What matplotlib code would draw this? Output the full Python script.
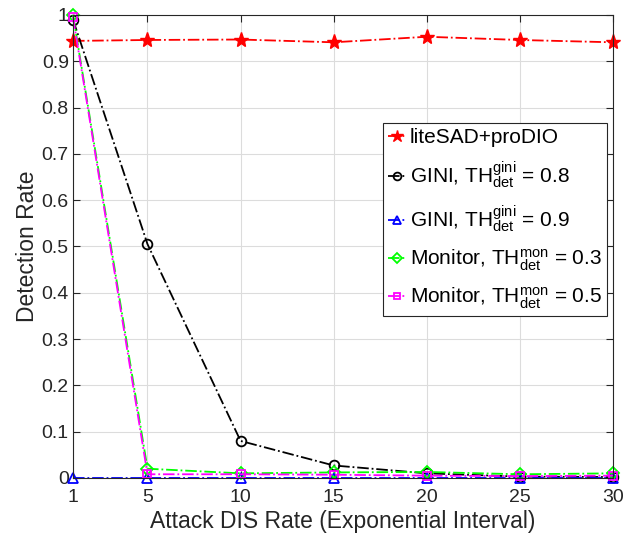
import matplotlib
matplotlib.use('Agg')
import matplotlib.pyplot as plt

# veriler
x = [1, 5, 10, 15, 20, 25, 30]
lite_sad = [0.944, 0.946, 0.947, 0.941, 0.953, 0.946, 0.941]
gini_08 = [0.99, 0.505, 0.08, 0.027, 0.010, 0.003, 0.002]
gini_09 = [0.0, 0.0, 0.0, 0.0, 0.0, 0.0, 0.0]
mon_03 = [1.0, 0.020, 0.010, 0.012, 0.013, 0.008, 0.010]
mon_05 = [0.995, 0.008, 0.008, 0.007, 0.005, 0.004, 0.005]

labels = ['liteSAD+proDIO',
          r'GINI, TH$^{gini}_{det}$ = 0.8',
          r'GINI, TH$^{gini}_{det}$ = 0.9',
          r'Monitor, TH$^{mon}_{det}$ = 0.3',
          r'Monitor, TH$^{mon}_{det}$ = 0.5']

plt.rcParams['font.family'] = ['Liberation Sans', 'DejaVu Sans']
plt.rcParams['mathtext.default'] = 'regular'

fig = plt.figure(figsize=(6.36, 5.41), dpi=100)
ax = fig.add_axes([0.1148, 0.1165, 0.849, 0.8558])

ax.plot(x, lite_sad, '-.', color='red', marker='*', markersize=11, lw=1.3, label=labels[0], clip_on=False)
ax.plot(x, gini_08, '-.', color='black', marker='o', markersize=7, mfc='none', mew=1.3, lw=1.3, label=labels[1], clip_on=False)
ax.plot(x, gini_09, '-.', color='blue', marker='^', markersize=7, mfc='none', mew=1.3, lw=1.3, label=labels[2], clip_on=False)
ax.plot(x, mon_03, '-.', color='#00ff00', marker='D', markersize=6, mfc='none', mew=1.3, lw=1.3, label=labels[3], clip_on=False)
ax.plot(x, mon_05, '-.', color='magenta', marker='s', markersize=6, mfc='none', mew=1.3, lw=1.3, label=labels[4], clip_on=False)

ax.set_xlim(1, 30)
ax.set_ylim(0, 1)
ax.set_xticks(x)
ax.set_yticks([0, 0.1, 0.2, 0.3, 0.4, 0.5, 0.6, 0.7, 0.8, 0.9, 1])
ax.set_yticklabels(['0', '0.1', '0.2', '0.3', '0.4', '0.5', '0.6', '0.7', '0.8', '0.9', '1'])
ax.tick_params(direction='in', top=True, right=True, labelsize=14, colors='#262626', length=5)
ax.tick_params(axis='x', pad=8)
ax.tick_params(axis='y', pad=3)
ax.grid(True, color='#dcdcdc', lw=0.8)
ax.set_axisbelow(True)
for s in ax.spines.values():
    s.set_color('#262626')
    s.set_linewidth(0.8)

ax.set_xlabel('Attack DIS Rate (Exponential Interval)', fontsize=16.5, color='#262626', labelpad=3)
ax.set_ylabel('Detection Rate', fontsize=16.5, color='#262626', labelpad=2)

leg = ax.legend(loc='upper right', bbox_to_anchor=(0.989, 0.767), fontsize=15,
                fancybox=False, edgecolor='#262626', framealpha=1,
                handlelength=0.9, handletextpad=0.15, borderpad=0.25, labelspacing=0.6,
                borderaxespad=0, markerscale=0.8)
leg.get_frame().set_linewidth(0.8)

plt.savefig('out.png', dpi=100)
